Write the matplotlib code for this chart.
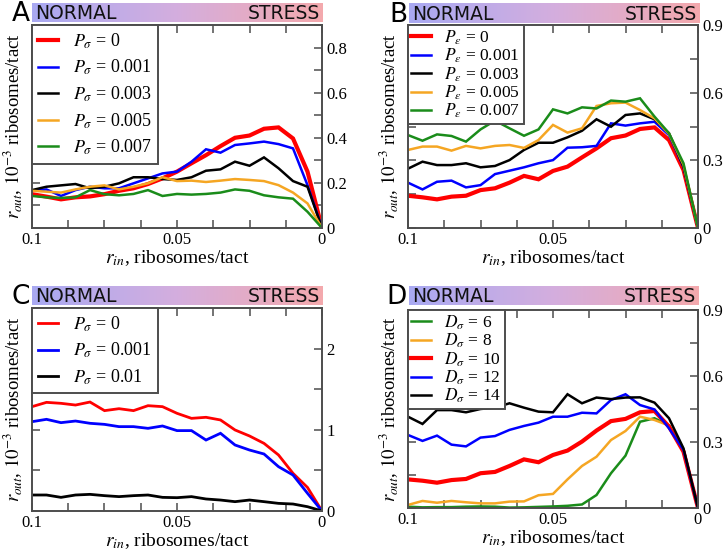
import numpy as np
import matplotlib
matplotlib.use("Agg")
import matplotlib.pyplot as plt
from matplotlib.colors import LinearSegmentedColormap
from matplotlib.ticker import FixedLocator, MultipleLocator, FuncFormatter

plt.rcParams['font.family'] = ['Liberation Serif', 'DejaVu Serif']
plt.rcParams['mathtext.fontset'] = 'stix'

# ---------------- data ----------------
r_in = [0.1, 0.095, 0.09, 0.085, 0.08, 0.075, 0.07, 0.065, 0.06, 0.055, 0.05,
        0.045, 0.04, 0.035, 0.03, 0.025, 0.02, 0.015, 0.01, 0.005, 0.0]

# Panel A: P_sigma
A_labels = ["0", "0.001", "0.003", "0.005", "0.007"]
A_p0 = [0.150, 0.139, 0.127, 0.136, 0.140, 0.150, 0.165, 0.176, 0.195, 0.220, 0.250,
        0.287, 0.323, 0.363, 0.400, 0.410, 0.440, 0.446, 0.397, 0.250, 0.0]
A_p001 = [0.165, 0.171, 0.142, 0.168, 0.183, 0.176, 0.176, 0.198, 0.220, 0.242, 0.250,
          0.294, 0.349, 0.334, 0.368, 0.375, 0.383, 0.372, 0.353, 0.190, 0.0]
A_p003 = [0.168, 0.183, 0.189, 0.195, 0.176, 0.183, 0.198, 0.225, 0.225, 0.217, 0.213,
          0.225, 0.254, 0.260, 0.294, 0.276, 0.313, 0.265, 0.208, 0.183, 0.0]
A_p005 = [0.165, 0.161, 0.157, 0.171, 0.183, 0.189, 0.171, 0.183, 0.198, 0.225, 0.208,
          0.210, 0.204, 0.210, 0.217, 0.213, 0.208, 0.190, 0.157, 0.109, 0.0]
A_p007 = [0.142, 0.136, 0.133, 0.136, 0.168, 0.150, 0.145, 0.151, 0.168, 0.142, 0.151,
          0.148, 0.151, 0.157, 0.171, 0.165, 0.145, 0.136, 0.130, 0.072, 0.0]

# Panel B: P_epsilon
B_labels = ["0", "0.001", "0.003", "0.005", "0.007"]
B_p0 = [0.143, 0.136, 0.127, 0.139, 0.143, 0.168, 0.176, 0.201, 0.231, 0.216, 0.253,
        0.272, 0.313, 0.353, 0.398, 0.410, 0.439, 0.446, 0.390, 0.257, 0.0]
B_p001 = [0.201, 0.171, 0.205, 0.210, 0.180, 0.190, 0.239, 0.254, 0.269, 0.287, 0.301,
          0.356, 0.358, 0.364, 0.464, 0.454, 0.464, 0.471, 0.412, 0.270, 0.0]
B_p003 = [0.263, 0.294, 0.279, 0.279, 0.287, 0.269, 0.275, 0.301, 0.346, 0.378, 0.378,
          0.402, 0.431, 0.482, 0.449, 0.501, 0.508, 0.482, 0.420, 0.272, 0.0]
B_p005 = [0.346, 0.361, 0.361, 0.343, 0.364, 0.353, 0.364, 0.368, 0.355, 0.390, 0.457,
          0.423, 0.442, 0.541, 0.553, 0.556, 0.523, 0.486, 0.417, 0.280, 0.0]
B_p007 = [0.412, 0.387, 0.415, 0.408, 0.383, 0.437, 0.476, 0.442, 0.409, 0.437, 0.526,
          0.508, 0.535, 0.530, 0.565, 0.560, 0.575, 0.494, 0.420, 0.287, 0.0]

# Panel C: P_sigma
C_labels = ["0", "0.001", "0.01"]
C_p0 = [1.285, 1.338, 1.326, 1.305, 1.342, 1.236, 1.260, 1.236, 1.297, 1.285, 1.203,
        1.141, 1.154, 1.121, 0.998, 0.924, 0.833, 0.690, 0.464, 0.290, 0.0]
C_p001 = [1.100, 1.129, 1.088, 1.108, 1.080, 1.067, 1.039, 1.039, 1.018, 1.047, 0.990,
          0.990, 0.874, 0.957, 0.813, 0.751, 0.702, 0.546, 0.443, 0.218, 0.0]
C_p01 = [0.197, 0.197, 0.168, 0.197, 0.205, 0.189, 0.177, 0.189, 0.197, 0.168, 0.164,
         0.177, 0.148, 0.135, 0.115, 0.135, 0.115, 0.094, 0.086, 0.053, 0.0]

# Panel D: D_sigma
D_labels = ["6", "8", "10", "12", "14"]
D_6 = [0.006, 0.003, 0.004, 0.004, 0.006, 0.007, 0.006, 0.002, 0.003, 0.005, 0.007,
       0.010, 0.016, 0.059, 0.158, 0.238, 0.392, 0.408, 0.375, 0.264, 0.0]
D_8 = [0.014, 0.032, 0.024, 0.032, 0.026, 0.021, 0.021, 0.029, 0.030, 0.058, 0.064,
       0.130, 0.191, 0.233, 0.309, 0.350, 0.415, 0.400, 0.375, 0.264, 0.0]
D_10 = [0.130, 0.124, 0.115, 0.127, 0.132, 0.158, 0.164, 0.191, 0.221, 0.208, 0.241,
        0.261, 0.302, 0.352, 0.395, 0.405, 0.435, 0.441, 0.370, 0.256, 0.0]
D_12 = [0.332, 0.305, 0.329, 0.288, 0.280, 0.320, 0.327, 0.355, 0.373, 0.388, 0.415,
        0.415, 0.433, 0.430, 0.491, 0.517, 0.468, 0.448, 0.362, 0.264, 0.0]
D_14 = [0.415, 0.382, 0.445, 0.445, 0.435, 0.450, 0.456, 0.476, 0.456, 0.438, 0.435,
        0.517, 0.476, 0.502, 0.495, 0.502, 0.503, 0.479, 0.408, 0.271, 0.0]

# ---------------- style ----------------
RED, BLUE, BLACK, ORANGE, GREEN = '#ff0000', '#0000ff', '#000000', '#f5a623', '#1a8c1a'
FRAME = '#4d4d4d'
W, H = 728, 557

fig = plt.figure(figsize=(W / 100, H / 100), dpi=100)
grad_cmap = LinearSegmentedColormap.from_list('ns', ['#a9a9f2', '#d4aede', '#f4a9ad'])


def px_axes(x0, y0, x1, y1):
    return fig.add_axes([x0 / W, 1 - y1 / H, (x1 - x0) / W, (y1 - y0) / H])


def make_panel(box, barbox, letter, ymax, ymajor, yminor, series, legend_spacing,
               legend_size=13, legend_pad=0.35):
    ax = px_axes(*box)
    for y, color, lw, lab in series:
        ax.plot(r_in, y, color=color, lw=lw, label=lab, solid_joinstyle='miter')
    ax.set_xlim(0.1, 0.0)
    ax.set_ylim(0, ymax)
    ax.xaxis.set_major_locator(FixedLocator([0.1, 0.05, 0.0]))
    ax.xaxis.set_minor_locator(MultipleLocator(0.0125))
    ax.xaxis.set_major_formatter(FuncFormatter(lambda v, p: f"{v:g}"))
    ax.yaxis.set_major_locator(MultipleLocator(ymajor))
    ax.yaxis.set_minor_locator(MultipleLocator(yminor))
    ax.yaxis.set_major_formatter(FuncFormatter(lambda v, p: f"{v:g}"))
    ax.tick_params(which='both', direction='in', top=True, bottom=True, left=True, right=True,
                   labelleft=False, labelright=True, length=6, width=1.1, color=FRAME,
                   labelsize=12, pad=3)
    for s in ax.spines.values():
        s.set_color(FRAME)
        s.set_linewidth(1.4)
    ax.set_xlabel(r"$r_{in}$, ribosomes/tact", fontsize=14, labelpad=0)
    ax.set_ylabel(r"$r_{out}$, $10^{-3}$ ribosomes/tact", fontsize=13.5)
    ax.yaxis.set_label_position('left')
    ax.yaxis.set_label_coords(-0.025, 0.5)
    leg = ax.legend(loc='upper left', bbox_to_anchor=(0, 1), borderaxespad=0,
                    fancybox=False, framealpha=1, edgecolor=FRAME, fontsize=legend_size,
                    handlelength=1.1, handletextpad=0.8, labelspacing=legend_spacing,
                    borderpad=legend_pad)
    leg.get_frame().set_linewidth(1.4)

    bax = px_axes(*barbox)
    bax.imshow(np.linspace(0, 1, 256).reshape(1, -1), cmap=grad_cmap, aspect='auto',
               extent=[0, 1, 0, 1])
    bax.set_axis_off()
    bax.text(0.01, 0.45, "NORMAL", ha='left', va='center', fontsize=13.5,
             family='DejaVu Sans', color='#111111')
    bax.text(0.99, 0.45, "STRESS", ha='right', va='center', fontsize=13.5,
             family='DejaVu Sans', color='#111111')
    fig.text((barbox[0] - 2) / W, 1 - (barbox[3] - 1) / H, letter, ha='right', va='baseline',
             fontsize=19, family='DejaVu Sans')
    return ax


make_panel((32, 25, 322, 228), (32, 3, 323, 22), "A", 0.9, 0.2, 0.1,
           [(A_p0, RED, 3.0, r"$P_\sigma$ = " + A_labels[0]),
            (A_p001, BLUE, 1.8, r"$P_\sigma$ = " + A_labels[1]),
            (A_p003, BLACK, 1.8, r"$P_\sigma$ = " + A_labels[2]),
            (A_p005, ORANGE, 1.8, r"$P_\sigma$ = " + A_labels[3]),
            (A_p007, GREEN, 1.8, r"$P_\sigma$ = " + A_labels[4])], 0.4)

make_panel((408, 25, 698, 228), (409, 3, 700, 23), "B", 0.9, 0.3, 0.15,
           [(B_p0, RED, 3.0, r"$P_\varepsilon$ = " + B_labels[0]),
            (B_p001, BLUE, 1.8, r"$P_\varepsilon$ = " + B_labels[1]),
            (B_p003, BLACK, 1.8, r"$P_\varepsilon$ = " + B_labels[2]),
            (B_p005, ORANGE, 1.8, r"$P_\varepsilon$ = " + B_labels[3]),
            (B_p007, GREEN, 1.8, r"$P_\varepsilon$ = " + B_labels[4])], 0.0, 12.5, 0.2)

make_panel((32, 308, 322, 511), (32, 286, 323, 305), "C", 2.5, 1.0, 0.5,
           [(C_p0, RED, 2.0, r"$P_\sigma$ = " + C_labels[0]),
            (C_p001, BLUE, 2.0, r"$P_\sigma$ = " + C_labels[1]),
            (C_p01, BLACK, 2.0, r"$P_\sigma$ = " + C_labels[2])], 0.4)

make_panel((408, 310, 698, 508), (409, 286, 699, 305), "D", 0.9, 0.3, 0.15,
           [(D_6, GREEN, 1.8, r"$D_\sigma$ = " + D_labels[0]),
            (D_8, ORANGE, 1.8, r"$D_\sigma$ = " + D_labels[1]),
            (D_10, RED, 3.0, r"$D_\sigma$ = " + D_labels[2]),
            (D_12, BLUE, 1.8, r"$D_\sigma$ = " + D_labels[3]),
            (D_14, BLACK, 1.8, r"$D_\sigma$ = " + D_labels[4])], 0.0, 12.5, 0.2)

fig.savefig("out.png", dpi=100)
